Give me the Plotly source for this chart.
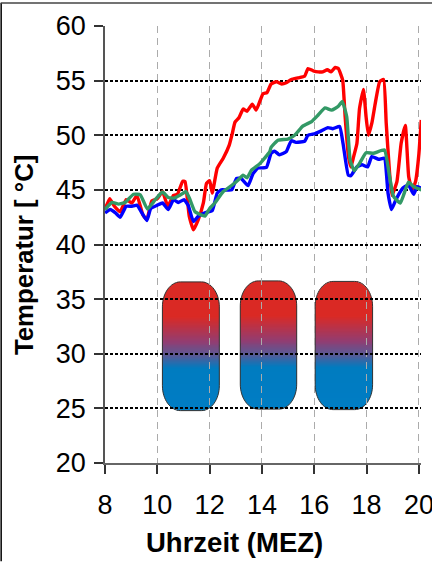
import math
import plotly.graph_objects as go

red_h = [8.0,8.18,8.36,8.58,8.81,9.03,9.22,9.45,9.6,9.79,10.0,10.2,10.4,10.62,10.77,10.97,11.06,11.22,11.38,11.57,11.76,11.88,12.0,12.1,12.29,12.52,12.75,12.87,12.97,13.12,13.28,13.43,13.63,13.78,14.04,14.19,14.35,14.55,14.73,14.93,15.12,15.38,15.63,15.76,15.96,16.15,16.32,16.5,16.64,16.8,16.92,17.01,17.09,17.18,17.31,17.4,17.5,17.63,17.73,17.88,17.98,18.07,18.2,18.33,18.5,18.65,18.75,18.88,18.97,19.16,19.32,19.48,19.61,19.74,19.87,20.0,20.09]
red_t = [43.2,44.2,43.5,43.0,44.1,43.8,44.5,42.7,42.3,44.0,44.2,44.85,43.5,44.5,44.6,45.8,45.75,42.6,41.35,42.3,43.8,45.6,45.85,44.7,47.0,47.9,49.1,50.2,51.2,51.6,52.4,52.2,52.85,52.3,53.8,53.9,54.7,54.9,54.7,54.8,55.1,55.25,55.4,56.1,55.9,55.8,55.8,56.0,55.8,56.2,56.1,55.6,55.0,51.7,48.0,47.1,48.0,49.25,52.45,54.2,51.7,50.0,51.1,52.9,54.9,55.1,51.1,46.5,44.5,45.75,49.25,50.9,46.2,45.0,45.75,48.3,51.4]

blue_h = [8.0,8.2,8.4,8.58,8.81,9.03,9.22,9.41,9.6,9.75,10.0,10.2,10.42,10.62,10.8,11.02,11.18,11.38,11.57,11.82,12.1,12.29,12.45,12.84,13.03,13.2,13.47,13.66,13.85,14.17,14.35,14.48,14.67,14.93,15.12,15.3,15.63,15.76,16.03,16.27,16.52,16.71,16.97,17.1,17.3,17.4,17.63,17.82,18.04,18.2,18.46,18.68,18.82,18.95,19.12,19.38,19.6,19.8,19.93,20.1]
blue_t = [42.9,43.2,42.9,42.5,43.5,43.5,43.6,42.9,42.2,43.3,43.6,43.8,43.2,44.1,43.85,44.1,43.6,42.1,42.6,42.9,43.1,44.7,45.0,45.0,46.05,46.05,45.4,46.5,47.0,47.05,48.35,48.55,48.2,48.5,49.5,49.35,49.45,50.0,50.15,50.4,50.7,50.6,50.8,49.25,46.35,46.3,47.1,47.3,47.1,48.05,47.8,47.9,44.7,43.2,44.1,45.15,45.45,44.6,45.3,45.15]

green_h = [8.0,8.27,8.52,8.77,9.09,9.35,9.62,9.92,10.2,10.42,10.64,10.89,11.1,11.25,11.44,11.82,12.0,12.2,12.52,12.84,13.09,13.28,13.43,13.6,13.92,14.3,14.35,14.61,14.99,15.25,15.57,15.9,16.15,16.41,16.66,16.92,17.07,17.24,17.37,17.53,17.75,17.98,18.26,18.68,18.88,19.03,19.29,19.6,19.8,20.1]
green_t = [43.2,43.85,43.7,43.85,44.6,44.55,43.25,44.1,44.8,44.3,44.25,44.55,44.85,44.1,43.0,42.6,43.3,43.8,44.85,45.4,45.9,46.35,46.1,46.8,47.4,48.5,48.9,49.55,49.65,50.0,50.85,51.25,51.85,52.5,52.3,52.65,53.1,51.7,47.75,46.75,47.5,48.4,48.35,48.65,46.2,44.4,43.8,45.7,45.3,45.0]

x_ticks = [8, 10, 12, 14, 16, 18, 20]
y_ticks = [20, 25, 30, 35, 40, 45, 50, 55, 60]
x_title = "Uhrzeit (MEZ)"
y_title = "Temperatur [ °C]"

W, H = 432, 562
L, R, T, B = 104.5, 421.0, 25.5, 463.5
X_MAX = 8 + (R - L) / 26.2

px_x = lambda p: 8 + (p - L) / (R - L) * (X_MAX - 8)
px_y = lambda p: 60 - (p - T) / (B - T) * 40

tanks_px = [(162, 219, 282, 411), (240, 296.5, 281, 409.5), (315, 372.5, 281.5, 410)]
RX, RY = 18, 25
GRAD = [(0.0, (218, 42, 37)), (0.27, (218, 42, 37)), (0.47, (145, 62, 115)),
        (0.58, (90, 90, 150)), (0.68, (0, 124, 192)), (1.0, (0, 126, 196))]


def grad_colour(f):
    for (f0, c0), (f1, c1) in zip(GRAD, GRAD[1:]):
        if f <= f1:
            k = (f - f0) / (f1 - f0)
            return tuple(round(c0[j] + (c1[j] - c0[j]) * k) for j in range(3))
    return GRAD[-1][1]


shapes = []
for x0, x1, y0, y1 in tanks_px:
    n = int(round(y1 - y0))
    for i in range(n):
        ya, yb = y0 + i, y0 + i + 1
        ym = (ya + yb) / 2
        d = min(ym - y0, y1 - ym)
        inset = 0
        if d < RY:
            inset = RX * (1 - math.sqrt(max(0, 1 - ((RY - d) / RY) ** 2)))
        col = grad_colour((ym - y0) / (y1 - y0))
        if ym < (y0 + y1) / 2:
            yb += 1
        else:
            ya -= 1
        shapes.append(dict(type="rect", xref="x", yref="y", layer="below",
                           x0=px_x(x0 + inset), x1=px_x(x1 - inset),
                           y0=px_y(ya), y1=px_y(yb),
                           fillcolor=f"rgb{col}", line=dict(width=0)))
    c = 0.5523
    P = lambda a, b: f"{px_x(a):.4f},{px_y(b):.4f}"
    path = (f"M{P(x0 + RX, y0)} L{P(x1 - RX, y0)} "
            f"C{P(x1 - RX + c * RX, y0)} {P(x1, y0 + RY - c * RY)} {P(x1, y0 + RY)} "
            f"L{P(x1, y1 - RY)} "
            f"C{P(x1, y1 - RY + c * RY)} {P(x1 - RX + c * RX, y1)} {P(x1 - RX, y1)} "
            f"L{P(x0 + RX, y1)} "
            f"C{P(x0 + RX - c * RX, y1)} {P(x0, y1 - RY + c * RY)} {P(x0, y1 - RY)} "
            f"L{P(x0, y0 + RY)} "
            f"C{P(x0, y0 + RY - c * RY)} {P(x0 + RX - c * RX, y0)} {P(x0 + RX, y0)} Z")
    shapes.append(dict(type="path", xref="x", yref="y", layer="below", path=path,
                       line=dict(color="#333333", width=1)))

# outer picture frame (left and top edges)
pw, ph = R - L, B - T
shapes.append(dict(type="line", xref="paper", yref="paper", layer="above",
                   x0=(0.5 - L) / pw, x1=(0.5 - L) / pw, y0=(B - H) / ph, y1=(B - 2.5) / ph,
                   line=dict(color="#000000", width=1.5)))
shapes.append(dict(type="line", xref="paper", yref="paper", layer="above",
                   x0=-L / pw, x1=(W - L) / pw, y0=(B - 2.5) / ph, y1=(B - 2.5) / ph,
                   line=dict(color="#444444", width=1.5)))

fig = go.Figure()
for xs, ys, colour in [(red_h, red_t, "#FF0000"), (blue_h, blue_t, "#0000FF"), (green_h, green_t, "#339966")]:
    fig.add_trace(go.Scatter(x=xs, y=ys, mode="lines", cliponaxis=False,
                             line=dict(color=colour, width=3.4, shape="spline", smoothing=0.4)))

FONT = "Liberation Sans, Arial, sans-serif"
fig.update_layout(
    width=W, height=H, showlegend=False,
    paper_bgcolor="white", plot_bgcolor="white",
    margin=dict(l=L, r=W - R, t=T, b=H - B, pad=0, autoexpand=False),
    font=dict(family=FONT, color="black"),
    shapes=shapes,
    annotations=[
        dict(text=f"<b>{x_title}</b>", xref="paper", yref="paper", showarrow=False,
             x=(234 - L) / pw, y=(B - 543) / ph, xanchor="center", yanchor="middle",
             font=dict(size=27.5, family=FONT, color="black")),
        dict(text=f"<b>{y_title}</b>", xref="paper", yref="paper", showarrow=False, textangle=-90,
             x=(24 - L) / pw, y=(B - 255.5) / ph, xanchor="center", yanchor="middle",
             font=dict(size=25.8, family=FONT, color="black")),
    ],
)
fig.update_xaxes(
    range=[8, X_MAX], tickmode="array", tickvals=x_ticks, ticktext=[str(v) for v in x_ticks],
    ticks="outside", ticklen=9, tickwidth=1.5, tickcolor="#333333",
    showline=True, linecolor="#666666", linewidth=1.5,
    showgrid=True, gridcolor="#ABABAB", gridwidth=1, griddash="7px,5px",
    zeroline=False, tickfont=dict(size=27, family=FONT),
    ticklabelstandoff=8, ticklabeloverflow="allow",
)
fig.update_yaxes(
    range=[20, 60], tickmode="array", tickvals=y_ticks, ticktext=[str(v) for v in y_ticks],
    ticks="outside", ticklen=9, tickwidth=1.5, tickcolor="#333333",
    showline=True, linecolor="#555555", linewidth=1.5,
    showgrid=True, gridcolor="#000000", gridwidth=2, griddash="3px,2px",
    zeroline=False, tickfont=dict(size=27, family=FONT),
    ticklabelstandoff=3,
)

fig.write_html("out.html", config={"displayModeBar": False},
               post_script="document.body.style.margin='0';window.dispatchEvent(new Event('resize'));")
